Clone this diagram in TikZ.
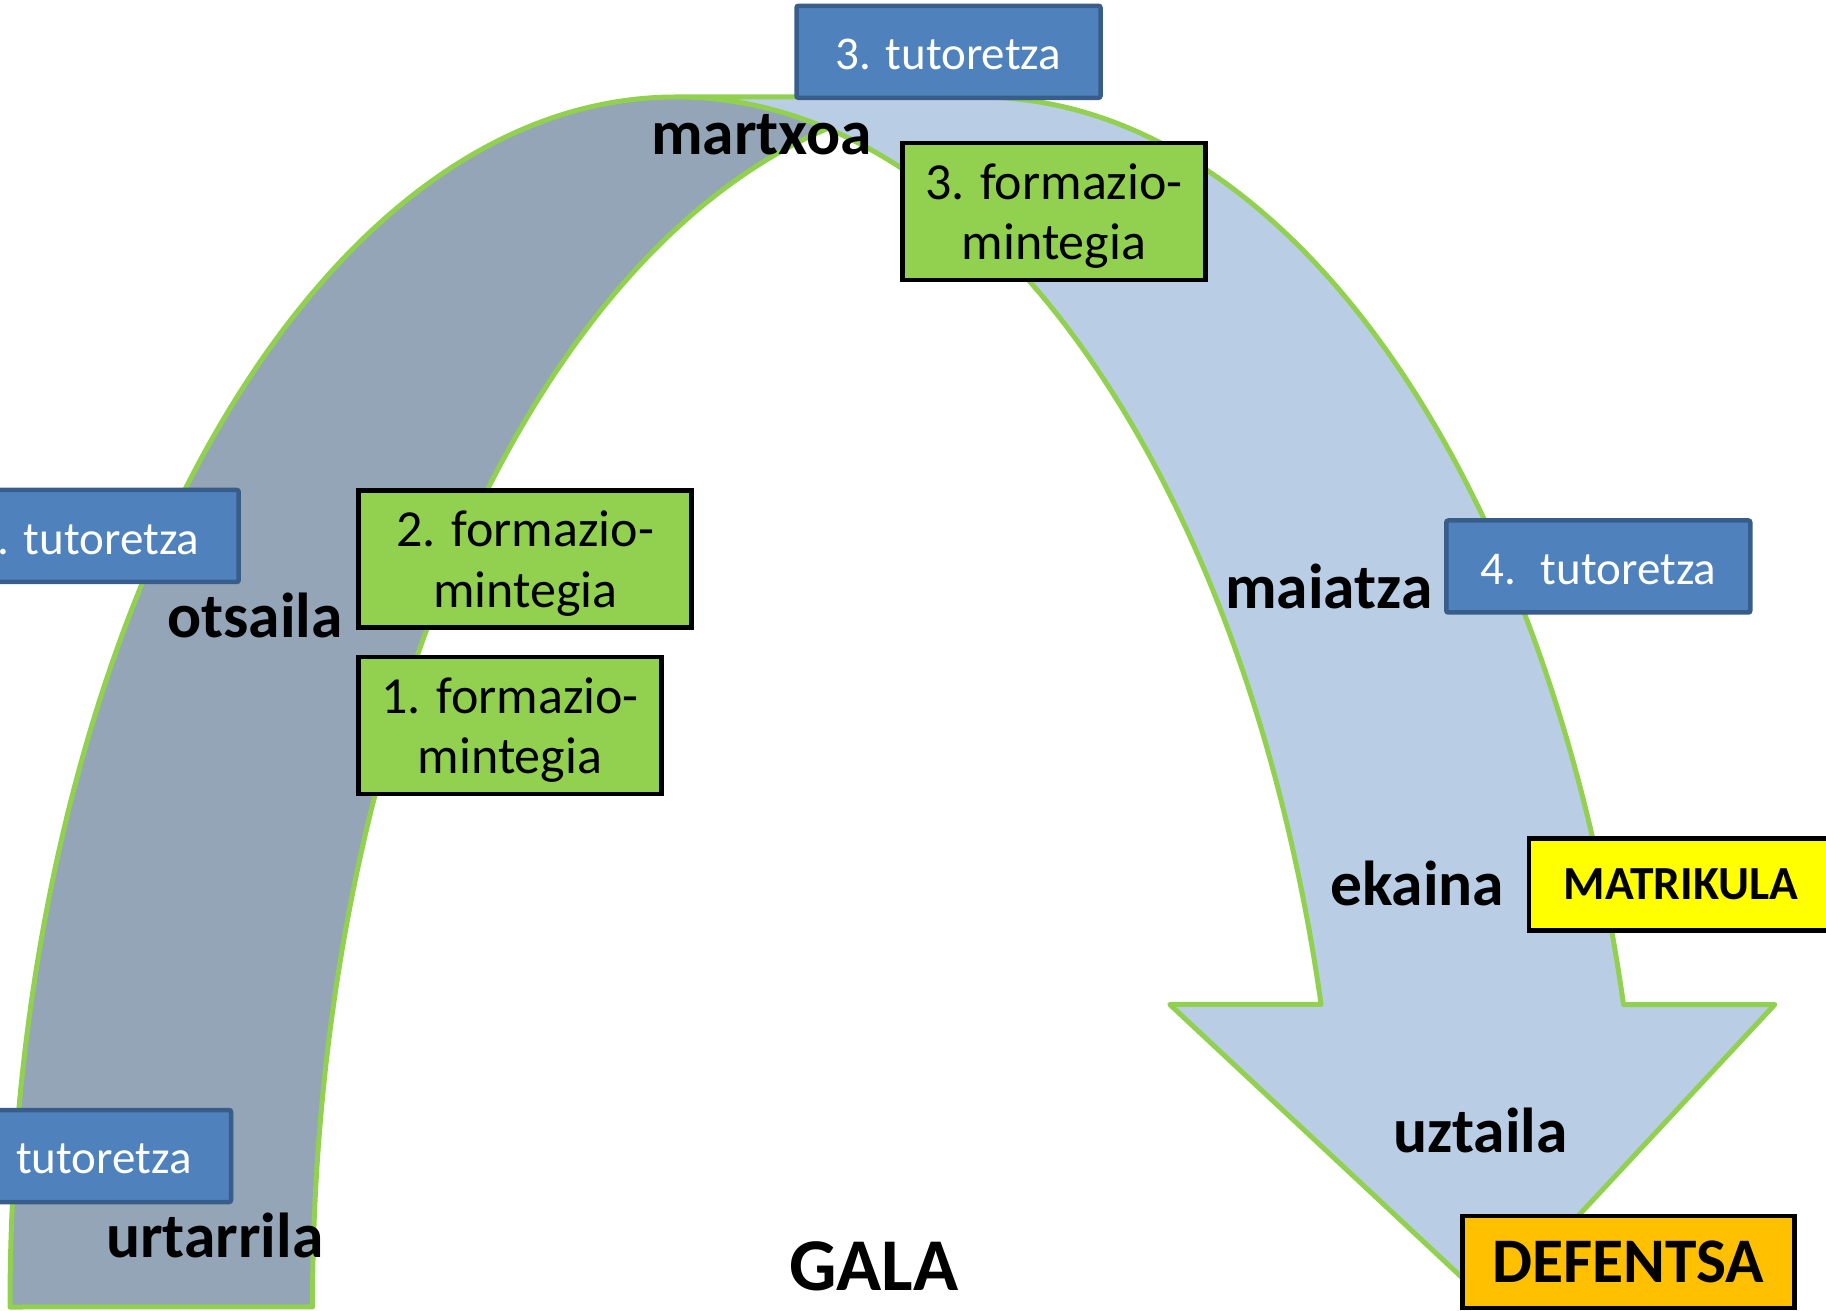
\documentclass[tikz,border=0pt]{standalone}
\usepackage{fontspec}
\setmainfont{Carlito}
\definecolor{darkband}{HTML}{94A5B7}
\definecolor{lightband}{HTML}{B9CDE5}
\definecolor{bandline}{HTML}{92D050}
\definecolor{tutfill}{HTML}{4F81BD}
\definecolor{tutline}{HTML}{385D8A}
\definecolor{formfill}{HTML}{92D050}
\definecolor{matfill}{HTML}{FFFF00}
\definecolor{deffill}{HTML}{FFC000}
\newcommand{\formtext}[2]{\raisebox{-6pt}[\height][\depth]{\begin{tabular}{@{}c@{}}#1\\#2\end{tabular}}}
\newcommand{\lowtext}[1]{\raisebox{-3pt}[\height][\depth]{#1}}
\tikzset{
  ell/.style={x radius=666.1, y radius=1210},
  tut/.style={draw=tutline, line width=4.5pt, fill=tutfill, rounded corners=2pt,
    text=white, minimum width=304pt, minimum height=92pt, inner sep=0pt,
    font=\fontsize{47}{56}\selectfont},
  form/.style={draw=black, line width=4.5pt, fill=formfill,
    minimum height=137pt, inner sep=0pt, font=\fontsize{52}{60.5}\selectfont},
  month/.style={anchor=base west, inner sep=0pt, font=\bfseries\fontsize{63.5}{70}\selectfont},
  galastyle/.style={anchor=base west, inner sep=0pt, font=\bfseries\fontsize{74.5}{80}\selectfont},
  matbox/.style={draw=black, line width=4.5pt, fill=matfill, minimum width=304pt,
    minimum height=92pt, inner sep=0pt, font=\bfseries\fontsize{47.5}{56}\selectfont},
  defbox/.style={draw=black, line width=4.5pt, fill=deffill, minimum width=332pt,
    minimum height=92pt, inner sep=0pt, font=\bfseries\fontsize{63.5}{70}\selectfont},
}
\begin{document}
\begin{tikzpicture}[x=1pt,y=1pt]
\useasboundingbox (0,0) rectangle (1826,1310);
\clip (0,0) rectangle (1826,1310);
% band geometry
\coordinate (E1L) at (10,3);
\coordinate (E2L) at (312.5,3);
\coordinate (top1) at (676.1,1213);
\coordinate (top2) at (978.6,1213);
\coordinate (cross) at (827.3,1181.4);
\coordinate (in1) at (1321.1,305.5);
\coordinate (out1) at (1623.6,305.5);
\coordinate (hl) at (1169.8,305.5);
\coordinate (hr) at (1774.8,305.5);
\coordinate (tip) at (1493.5,3);
% back (dark) band
\fill[darkband] (E1L) arc[ell, start angle=180, end angle=76.87]
  arc[ell, start angle=103.13, end angle=180] -- cycle;
% front (light) band with arrow head
\fill[lightband] (tip) -- (hl) -- (in1) arc[ell, start angle=14.4775, end angle=90]
  -- (top2) arc[ell, start angle=90, end angle=14.4775] -- (hr) -- cycle;
% outline
\draw[bandline, line width=5pt, line join=round] (cross) arc[ell, start angle=103.13, end angle=180]
  -- (E1L) arc[ell, start angle=180, end angle=90] -- (top2)
  arc[ell, start angle=90, end angle=14.4775] -- (hr) -- (tip) -- (hl) -- (in1)
  arc[ell, start angle=14.4775, end angle=90];
% boxes
\node[tut] (tut3) at (948.5,1258.2) {\lowtext{3. tutoretza}};
\node[form, minimum width=303pt] (form3) at (1053.9,1098.7) {\formtext{3. formazio-}{mintegia}};
\node[tut] (tut2) at (86.7,774) {\lowtext{2. tutoretza}};
\node[tut] (tut1) at (79,154) {\lowtext{1. tutoretza}};
\node[form, minimum width=333pt] (form2) at (525.2,751) {\formtext{2. formazio-}{mintegia}};
\node[form, minimum width=303pt] (form1) at (510,584.5) {\formtext{1. formazio-}{mintegia}};
\node[tut] (tut4) at (1598.3,743.5) {\lowtext{4.~ tutoretza}};
\node[matbox] (mat) at (1681,425.6) {MATRIKULA};
\node[defbox] (def) at (1628.5,48) {DEFENTSA};
% month labels
\node[month] (martxoa) at (651,1155) {martxoa};
\node[month] (otsaila) at (167,672) {otsaila};
\node[month] (urtarrila) at (106,53) {urtarrila};
\node[month] (maiatza) at (1225,701) {maiatza};
\node[month] (ekaina) at (1330,404) {ekaina};
\node[month] (uztaila) at (1393,158) {uztaila};
\node[galastyle] (gala) at (789,20) {GALA};
\end{tikzpicture}
\end{document}
